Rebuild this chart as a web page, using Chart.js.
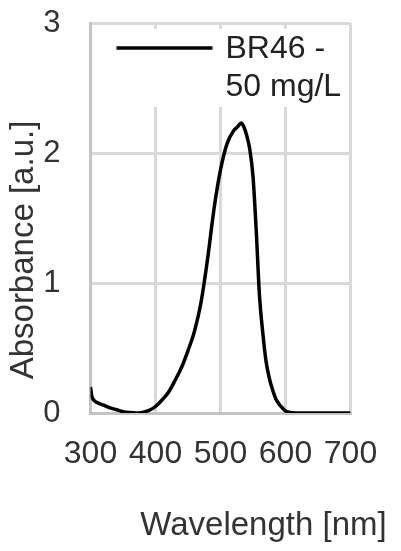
<!DOCTYPE html>
<html>
<head>
<meta charset="utf-8">
<script src="https://cdn.jsdelivr.net/npm/chart.js@4/dist/chart.umd.min.js"></script>
<style>
  html, body { margin: 0; padding: 0; background: #fff; }
  #wrap { width: 401px; height: 551px; }
</style>
</head>
<body>
<div id="wrap"><canvas id="spectrumChart"></canvas></div>
<script>
// absorbance spectrum of BR46
const wavelengths = [300, 302, 305, 310, 320, 330, 340, 350, 360, 370, 380, 390, 400, 410, 420, 430, 440, 450, 460, 470, 480, 490, 500, 510, 520, 526, 532, 536, 540, 545, 550, 555, 560, 565, 570, 575, 580, 585, 590, 595, 600, 610, 620, 650, 700];
const absorbance = [0.20, 0.13, 0.10, 0.08, 0.06, 0.04, 0.025, 0.01, 0.003, 0.0, 0.005, 0.02, 0.05, 0.10, 0.16, 0.25, 0.35, 0.48, 0.63, 0.85, 1.18, 1.57, 1.87, 2.07, 2.17, 2.20, 2.23, 2.20, 2.14, 2.03, 1.82, 1.40, 0.90, 0.62, 0.40, 0.27, 0.18, 0.11, 0.07, 0.04, 0.015, 0.003, 0.0, 0.0, 0.0];
const seriesLabel = ["BR46 -", "50 mg/L"];
const xTitle = "Wavelength [nm]";
const yTitle = "Absorbance [a.u.]";
const xTicks = [300, 400, 500, 600, 700];
const yTicks = [0, 1, 2, 3];

const FONT = "'Liberation Sans', Arial, sans-serif";
const TEXT = "#333";

// legend box sits inside the plot, covering the grid behind it
const insideLegend = {
  id: "insideLegend",
  beforeDatasetsDraw(chart) {
    const { ctx, chartArea: a } = chart;
    ctx.save();
    ctx.fillStyle = "#fff";
    ctx.fillRect(a.left + 3, a.top + 6, a.right - a.left - 6, 78);
    ctx.strokeStyle = "#000";
    ctx.lineWidth = 3.5;
    ctx.beginPath();
    ctx.moveTo(a.left + 26, a.top + 25);
    ctx.lineTo(a.left + 122, a.top + 25);
    ctx.stroke();
    ctx.fillStyle = "#222";
    ctx.font = "32px " + FONT;
    ctx.textBaseline = "middle";
    ctx.fillText(seriesLabel[0], a.left + 135, a.top + 26);
    ctx.fillText(seriesLabel[1], a.left + 135, a.top + 64);
    ctx.restore();
  },
};

// axis titles, placed like the original (off-centre)
const axisTitles = {
  id: "axisTitles",
  afterDraw(chart) {
    const { ctx, chartArea: a } = chart;
    ctx.save();
    ctx.fillStyle = TEXT;
    ctx.font = "33px " + FONT;
    ctx.textAlign = "center";
    ctx.textBaseline = "alphabetic";
    ctx.fillText(xTitle, a.left + 173, a.bottom + 122);
    ctx.translate(33, (a.top + a.bottom) / 2 + 32);
    ctx.rotate(-Math.PI / 2);
    ctx.fillText(yTitle, 0, 0);
    ctx.restore();
  },
};

new Chart(document.getElementById("spectrumChart"), {
  type: "line",
  data: {
    datasets: [
      {
        label: seriesLabel.join(" "),
        data: wavelengths.map((w, i) => ({ x: w, y: absorbance[i] })),
        borderColor: "#000",
        borderWidth: 3.5,
        pointRadius: 0,
        cubicInterpolationMode: "monotone",
        fill: false,
      },
    ],
  },
  options: {
    responsive: true,
    maintainAspectRatio: false,
    animation: false,
    layout: { padding: { top: 23, right: 50.5, bottom: 78, left: 0 } },
    plugins: {
      legend: { display: false },
      tooltip: { enabled: false },
    },
    scales: {
      x: {
        type: "linear",
        min: 300,
        max: 700,
        clip: false,
        afterBuildTicks: (s) => { s.ticks = xTicks.map((v) => ({ value: v })); },
        afterFit: (s) => { s.height = 60; s.paddingLeft = 0; s.paddingRight = 0; },
        grid: { color: "#d9d9d9", lineWidth: 3, drawTicks: false },
        border: { color: "#c4c4c4", width: 3 },
        ticks: { color: TEXT, font: { family: FONT, size: 32 }, padding: 22, maxRotation: 0 },
      },
      y: {
        min: 0,
        max: 3,
        clip: false,
        afterBuildTicks: (s) => { s.ticks = yTicks.map((v) => ({ value: v })); },
        afterFit: (s) => { s.width = 90.5; s.paddingTop = 0; s.paddingBottom = 0; },
        grid: { color: "#d9d9d9", lineWidth: 3, drawTicks: false },
        border: { color: "#c4c4c4", width: 3 },
        ticks: { color: TEXT, font: { family: FONT, size: 31 }, padding: 30 },
      },
    },
  },
  plugins: [insideLegend, axisTitles],
});
</script>
</body>
</html>
